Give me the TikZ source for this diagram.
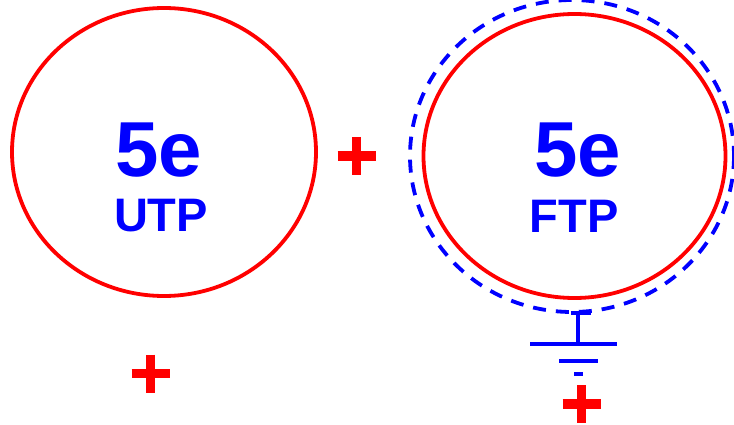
\documentclass[tikz,border=0pt]{standalone}
\usepackage{fontspec}
\setmainfont{Liberation Sans}
\definecolor{cred}{RGB}{255,0,0}
\definecolor{cblue}{RGB}{0,0,255}
\begin{document}
\begin{tikzpicture}[x=1pt,y=-1pt,
  ring/.style={draw=cred,line width=3.8pt},
  shield/.style={draw=cblue,line width=3.8pt,dash pattern=on 13pt off 10pt},
  gnd/.style={draw=cblue,line width=4pt},
  big/.style={text=cblue,font=\fontsize{78}{78}\selectfont\bfseries,anchor=base,inner sep=0pt},
  small/.style={text=cblue,font=\fontsize{47}{47}\selectfont\bfseries,anchor=base,inner sep=0pt},
  plusarm/.style={draw=cred,line width=9.5pt}]
\useasboundingbox (0,0) rectangle (734,425);
% left cable
\draw[ring] (164,152) ellipse [x radius=152, y radius=144];
\node[big] (l5e) at (159,176) {5e};
\node[small] (lutp) at (161,231) {UTP};
% right cable
\draw[shield] (572,156) ellipse [x radius=162, y radius=156];
\draw[ring] (574.5,156) ellipse [x radius=151, y radius=142];
\node[big] (r5e) at (578,176) {5e};
\node[small] (rftp) at (574,233) {FTP};
% ground symbol
\coordinate (gt) at (578,313);
\coordinate (gb) at (578,344);
\draw[gnd] (571,313) -- (591,313);
\draw[gnd] (gt) -- (gb);
\draw[gnd] (530,344) -- (617,344);
\draw[gnd] (559,361) -- (598,361);
\draw[gnd] (574,374) -- (583,374);
% plus signs
\foreach \cx/\cy in {150.5/373.5, 356.5/156, 581.5/404}{
  \draw[plusarm] (\cx-19,\cy) -- (\cx+19,\cy);
  \draw[plusarm] (\cx,\cy-19) -- (\cx,\cy+19);
}
\end{tikzpicture}
\end{document}
